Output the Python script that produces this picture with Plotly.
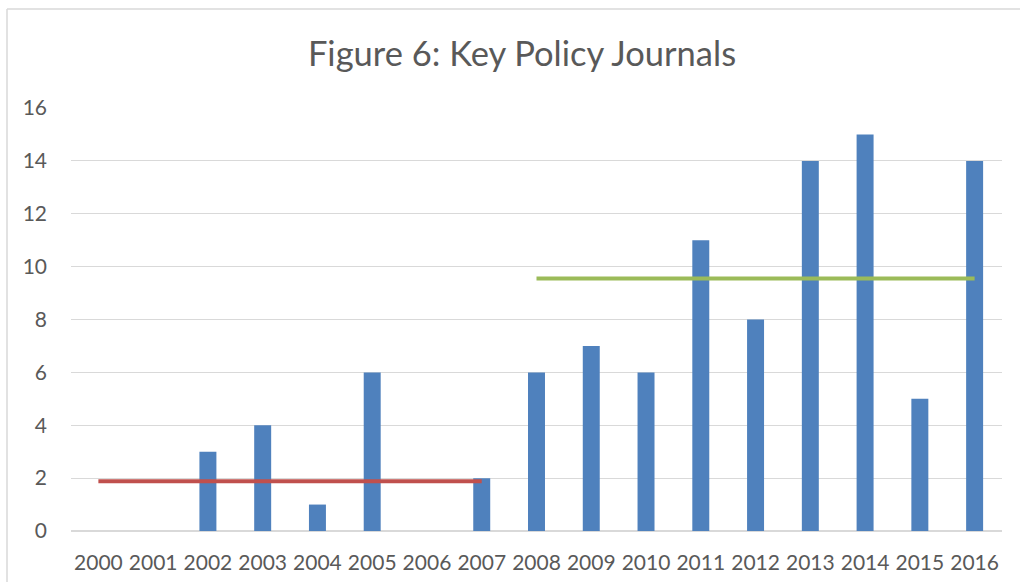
import plotly.graph_objects as go

years = [str(y) for y in range(2000, 2017)]
counts = [0, 0, 3, 4, 1, 6, 0, 2, 6, 7, 6, 11, 8, 14, 15, 5, 14]

early_years = ["2000", "2007"]
early_avg = [1.88, 1.88]
late_years = ["2008", "2016"]
late_avg = [9.55, 9.55]

y_ticks = [0, 2, 4, 6, 8, 10, 12, 14, 16]

FONT = "Lato"
TXT = "#595959"
GRID = "#D9D9D9"

fig = go.Figure()
fig.add_trace(go.Bar(x=years, y=counts, marker=dict(color="#4F81BD", line=dict(width=0)),
                     showlegend=False))
fig.add_trace(go.Scatter(x=early_years, y=early_avg, mode="lines",
                         line=dict(color="#C0504D", width=4), showlegend=False))
fig.add_trace(go.Scatter(x=late_years, y=late_avg, mode="lines",
                         line=dict(color="#9BBB59", width=4), showlegend=False))

L, R, T, B = 71, 18, 108, 51
W, H = 1020, 582
pw, ph = W - L - R, H - T - B

fig.update_layout(
    width=W, height=H,
    margin=dict(l=L, r=R, t=T, b=B, pad=0, autoexpand=False),
    paper_bgcolor="white", plot_bgcolor="white",
    bargap=0.69,
    title=dict(text="Figure 6: Key Policy Journals", x=522 / W, xanchor="center",
               y=1 - 54 / H, yanchor="middle",
               font=dict(family=FONT, size=34.5, color=TXT)),
    font=dict(family=FONT, size=21, color=TXT),
    xaxis=dict(type="category", showgrid=False, showline=False, ticks="",
               tickfont=dict(family=FONT, size=21, color=TXT), automargin=False,
               ticklabelstandoff=17, range=[-0.5, 16.5]),
    yaxis=dict(range=[0, 16], tickvals=y_ticks, showgrid=True, gridcolor=GRID,
               gridwidth=1, zeroline=True, zerolinecolor=GRID, zerolinewidth=1.5,
               showline=False, ticks="", ticklabelstandoff=23, automargin=False,
               tickfont=dict(family=FONT, size=21, color=TXT)),
    shapes=[
        dict(type="line", xref="paper", yref="paper",
             x0=(7 - L) / pw, x1=(W + 5 - L) / pw,
             y0=1 + (T - 9) / ph, y1=1 + (T - 9) / ph,
             line=dict(color=GRID, width=1.5), layer="below"),
        dict(type="line", xref="paper", yref="paper",
             x0=(7 - L) / pw, x1=(7 - L) / pw,
             y0=1 + (T - 9) / ph, y1=-(B + 5) / ph,
             line=dict(color=GRID, width=1.5), layer="below"),
    ],
)

fig.write_html("out.html")
